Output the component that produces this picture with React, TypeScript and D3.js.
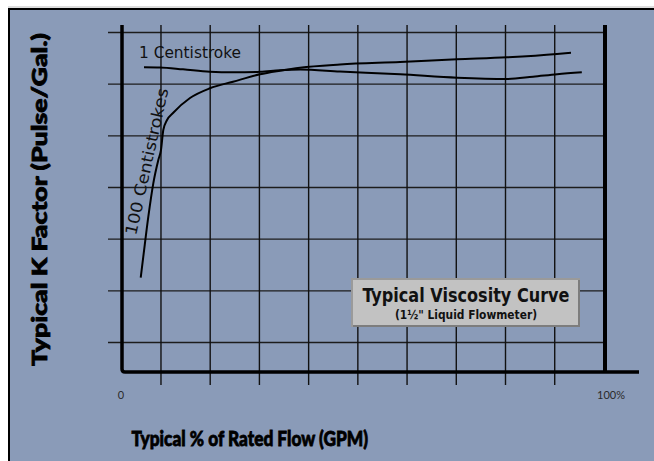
import React from 'react';
import * as d3 from 'd3';

// x in % of rated flow, y in grid units (K factor, unlabelled)
const oneCstX = [4.55, 7.87, 12.63, 18.2, 23.0, 28.6, 32.7, 36.9, 45.1, 57.6, 69.4, 79.7, 85.1, 90.1, 95.2];
const oneCstY = [5.326, 5.322, 5.287, 5.241, 5.229, 5.241, 5.27, 5.284, 5.245, 5.191, 5.125, 5.1, 5.144, 5.191, 5.229];

const hundredCstX = [3.87, 4.41, 5.45, 6.48, 7.52, 8.07, 8.55, 9.32, 10.56, 14.08, 18.2, 22.98, 28.57, 32.71, 36.85, 45.13, 57.56, 69.36, 79.71, 90.06, 92.96];
const hundredCstY = [1.254, 1.661, 2.435, 3.081, 3.532, 3.726, 4.113, 4.306, 4.442, 4.732, 4.92, 5.047, 5.191, 5.26, 5.318, 5.38, 5.429, 5.481, 5.52, 5.584, 5.609];

const gridX = [8.07, 18.26, 28.45, 38.64, 48.83, 59.02, 69.21, 79.4, 89.59];
const gridY = [0, 1, 2, 3, 4, 5, 6];
const tickLabels = ['0', '100%'];
const tickValues = [0, 100];

const W = 654;
const H = 461;
const frame = { left: 122, right: 605, top: 25, bottom: 372 };

const x = d3.scaleLinear().domain([0, 100]).range([frame.left, frame.right]);
const y = d3.scaleLinear().domain([0, 6]).range([342.5, 32.5]);

const line = d3.line<[number, number]>()
  .x(d => x(d[0]))
  .y(d => y(d[1]))
  .curve(d3.curveMonotoneX);

const App = () => {
  const oneCst = oneCstX.map((v, i) => [v, oneCstY[i]] as [number, number]);
  const hundredCst = hundredCstX.map((v, i) => [v, hundredCstY[i]] as [number, number]);
  const heavy = "Lato, 'DejaVu Sans', sans-serif";
  const narrow = "'DejaVu Sans Condensed', 'Roboto', sans-serif";

  return (
    <svg width={W} height={H} style={{ position: 'absolute', left: 0, top: 0 }}>
      <rect x={0} y={0} width={W} height={H} fill="#ffffff" />
      <line x1={8} x2={W} y1={7} y2={7} stroke="#bcbcbc" strokeWidth={1} />
      <rect x={9} y={9} width={W} height={H} fill="#8a9bb8" stroke="#000" strokeWidth={2} />

      {/* horizontal grid */}
      {gridY.map(v => (
        <line key={'gy' + v} x1={108} x2={frame.right} y1={y(v)} y2={y(v)} stroke="#1c1c1c" strokeWidth={1.4} />
      ))}
      {/* vertical grid, running below the axis as ticks */}
      {gridX.map(v => (
        <line key={'gx' + v} x1={x(v)} x2={x(v)} y1={frame.top} y2={385} stroke="#111" strokeWidth={1.4} />
      ))}

      {/* frame */}
      <path d={`M${frame.left},${frame.top} V${frame.bottom - 3} Q${frame.left},${frame.bottom} ${frame.left + 3},${frame.bottom} H639`}
        fill="none" stroke="#000" strokeWidth={3.5} />
      <line x1={frame.right} x2={frame.right} y1={frame.top} y2={frame.bottom} stroke="#000" strokeWidth={4} />

      {/* curves */}
      <path d={line(oneCst) || ''} fill="none" stroke="#000" strokeWidth={2} />
      <path d={line(hundredCst) || ''} fill="none" stroke="#000" strokeWidth={2} />

      <text x={139} y={58} fontFamily={narrow} fontSize={16} fill="#111" textLength={102} lengthAdjust="spacingAndGlyphs">1 Centistroke</text>
      <text transform="translate(136,236) rotate(-77.5)" fontFamily={narrow} fontSize={16} fill="#111" textLength={150} lengthAdjust="spacingAndGlyphs">100 Centistrokes</text>

      {/* tick labels */}
      {tickValues.map((v, i) => (
        <text key={'t' + v} x={x(v) + (i === 0 ? -1 : 6)} y={399} textAnchor="middle" fontFamily="Lato, 'DejaVu Sans', sans-serif" fontSize={11} fill="#2a2a2a">{tickLabels[i]}</text>
      ))}

      {/* axis titles */}
      <text x={131.5} y={446} fontFamily={heavy} fontWeight={900} fontSize={21.5} fill="#000" stroke="#000" strokeWidth={0.8} textLength={236.5} lengthAdjust="spacingAndGlyphs">Typical % of Rated Flow (GPM)</text>
      <text transform="translate(47,366) rotate(-90)" fontFamily={heavy} fontWeight={900} fontSize={21.5} fill="#000" stroke="#000" strokeWidth={0.8} textLength={333} lengthAdjust="spacingAndGlyphs">Typical K Factor (Pulse/Gal.)</text>

      {/* legend box */}
      <rect x={352} y={279} width={227} height={47} fill="#c2c2c2" stroke="#9a9a9a" strokeWidth={2} />
      <line x1={353} x2={579} y1={326} y2={326} stroke="#7d7d7d" strokeWidth={2} />
      <line x1={579} x2={579} y1={280} y2={327} stroke="#7d7d7d" strokeWidth={2} />
      <text x={466} y={301.5} textAnchor="middle" fontFamily={narrow} fontWeight="bold" fontSize={19.5} fill="#111" textLength={207} lengthAdjust="spacingAndGlyphs">Typical Viscosity Curve</text>
      <text x={466} y={318.5} textAnchor="middle" fontFamily={narrow} fontWeight="bold" fontSize={11.5} fill="#111" textLength={142} lengthAdjust="spacingAndGlyphs">(1½" Liquid Flowmeter)</text>
    </svg>
  );
};

export default App;
